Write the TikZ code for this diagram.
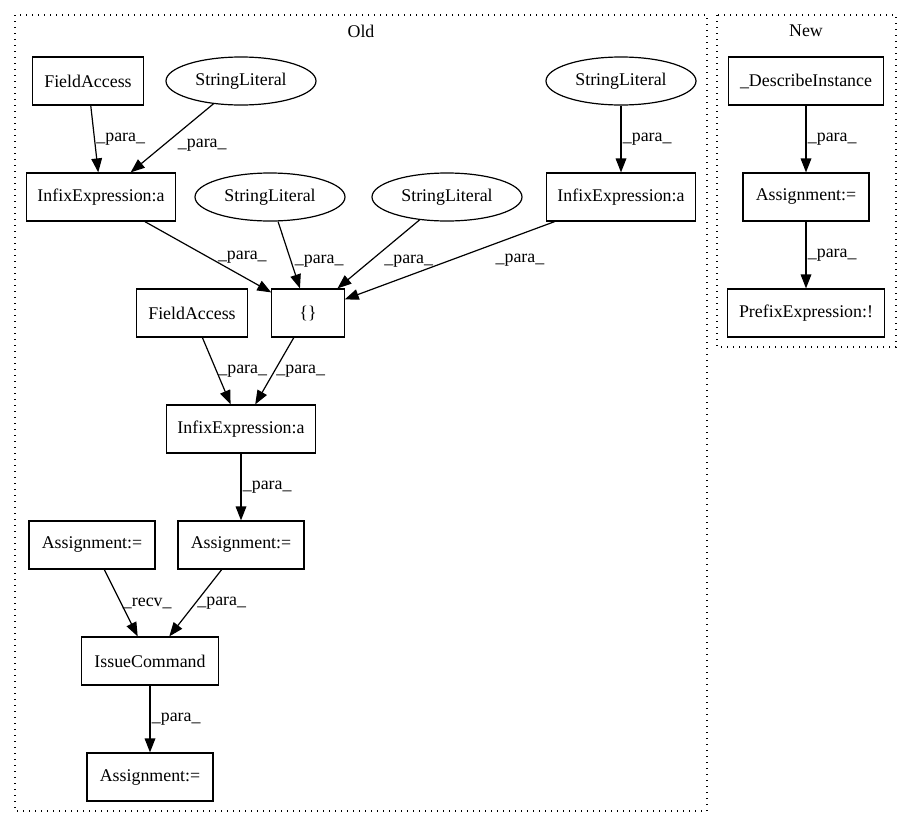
\documentclass[tikz,border=0pt]{standalone}
\usepackage{fontspec}
\setmainfont{Liberation Serif}
\usetikzlibrary{shapes.geometric,arrows.meta}

\tikzset{
    box/.style={draw, rectangle, line width=0.9pt, minimum height=36pt, inner sep=0pt, font=\fontsize{13.4}{15}\selectfont},
    lit/.style={draw, ellipse, line width=0.9pt, minimum width=112.5pt, minimum height=36pt, inner sep=0pt, font=\fontsize{13.4}{15}\selectfont},
    edge/.style={line width=0.9pt, -{Triangle[length=10.5pt,width=8pt]}},
    lbl/.style={anchor=west, inner sep=1pt, font=\fontsize{13.4}{15}\selectfont},
    cluster/.style={draw, line width=0.9pt, dash pattern=on 1pt off 3.5pt}
}

\begin{document}
\begin{tikzpicture}[x=0.75pt, y=-0.75pt]
        \useasboundingbox (0,0) rectangle (912,828);

        % clusters
        \draw[cluster] (15,15) rectangle (707,811);
        \draw[cluster] (717,15) rectangle (896,347);
        \node[lbl, anchor=center] (old) at (361,31) {Old};
        \node[lbl, anchor=center] (new) at (806,31) {New};

        % old
        \node[box, minimum width=83.25pt] (fa1) at (88,81) {FieldAccess};
        \node[lit] (sl1) at (241,81) {StringLiteral};
        \node[lit] (sl4) at (621,81) {StringLiteral};
        \node[box, minimum width=112pt] (inf1) at (101,197) {InfixExpression:a};
        \node[lit] (sl2) at (270,197) {StringLiteral};
        \node[lit] (sl3) at (447,197) {StringLiteral};
        \node[box, minimum width=112pt] (inf2) at (621,197) {InfixExpression:a};
        \node[box, minimum width=83.25pt] (fa2) at (192,313) {FieldAccess};
        \node[box, minimum width=54.2pt] (arr) at (308,313) {\{\}};
        \node[box, minimum width=112pt] (inf3) at (241,429) {InfixExpression:a};
        \node[box, minimum width=94.5pt] (as1) at (92,545) {Assignment:=};
        \node[box, minimum width=94.5pt] (as2) at (241,545) {Assignment:=};
        \node[box, minimum width=102.75pt] (cmd) at (150,661) {IssueCommand};
        \node[box, minimum width=94.5pt] (as3) at (150,777) {Assignment:=};

        % new
        \node[box, minimum width=116.25pt] (desc) at (806,81) {\_DescribeInstance};
        \node[box, minimum width=94.5pt] (asn) at (806,197) {Assignment:=};
        \node[box, minimum width=117.75pt] (pre) at (806,313) {PrefixExpression:!};

        \foreach \from/\to in {fa1/inf1, sl4/inf2, fa2/inf3, arr/inf3, inf3/as2, as2/cmd, cmd/as3, desc/asn, asn/pre}{
            \draw[edge] (\from) -- node[lbl] {\_para\_} (\to);
        };
        \foreach \from/\to in {sl1/inf1, sl2/arr, sl3/arr}{
            \draw[edge] (\from) -- node[lbl, xshift=3pt, yshift=-5pt] {\_para\_} (\to);
        };
        \draw[edge] (inf1) -- node[lbl, xshift=6pt] {\_para\_} (arr);
        \draw[edge] (inf2) -- node[lbl, xshift=33pt] {\_para\_} (arr);
        \draw[edge] (as1) -- node[lbl] {\_recv\_} (cmd);

    \end{tikzpicture}
\end{document}
